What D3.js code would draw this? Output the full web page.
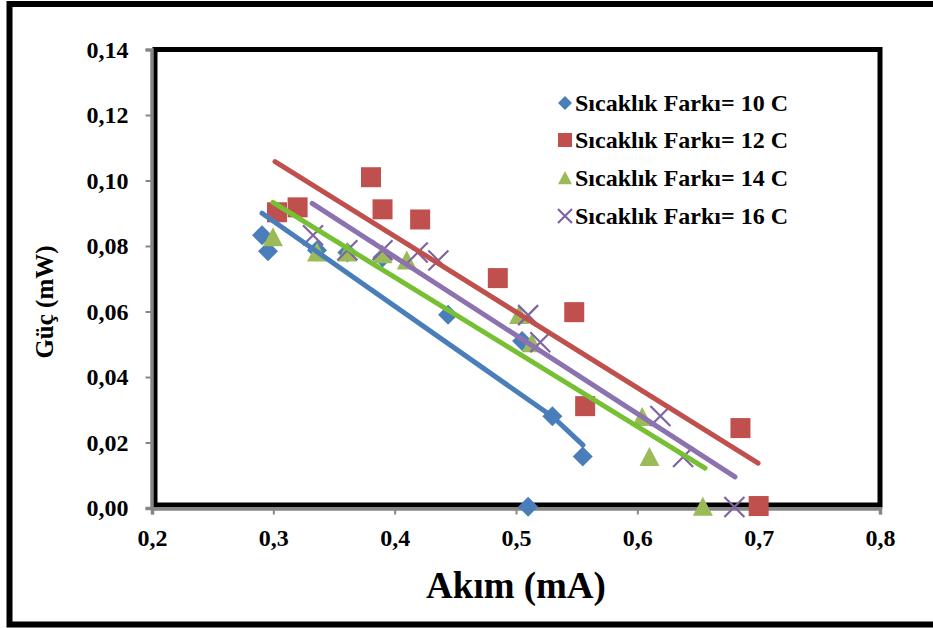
<!DOCTYPE html>
<html><head><meta charset="utf-8">
<script src="https://cdn.jsdelivr.net/npm/d3@7"></script>
<style>html,body{margin:0;padding:0;background:#fff;}svg{display:block;}</style>
</head><body>
<script>
const seriesNames = ["Sıcaklık Farkı= 10 C","Sıcaklık Farkı= 12 C","Sıcaklık Farkı= 14 C","Sıcaklık Farkı= 16 C"];
const xTicks = [0.2,0.3,0.4,0.5,0.6,0.7,0.8];
const yTicks = [0,0.02,0.04,0.06,0.08,0.10,0.12,0.14];
const dT10 = [[0.2907,0.0833],[0.2956,0.0784],[0.336,0.0787],[0.361,0.078],[0.39,0.0765],[0.444,0.059],[0.505,0.051],[0.53,0.028],[0.555,0.0157],[0.51,0.0004]];
const dT12 = [[0.303,0.0903],[0.32,0.0918],[0.3805,0.101],[0.39,0.0912],[0.421,0.0881],[0.485,0.0702],[0.548,0.0598],[0.557,0.0311],[0.685,0.0244],[0.70,0.0006]];
const dT14 = [[0.2997,0.0827],[0.336,0.078],[0.361,0.078],[0.39,0.0775],[0.41,0.0756],[0.5025,0.0589],[0.513,0.0503],[0.604,0.0278],[0.61,0.0156],[0.654,0.0004]];
const dT16 = [[0.3327,0.0833],[0.361,0.0787],[0.39,0.0787],[0.419,0.078],[0.436,0.0756],[0.51,0.0589],[0.52,0.0506],[0.619,0.0281],[0.6377,0.0156],[0.68,0.0003]];
const trend10 = [[0.2907,0.090],[0.5305,0.0278],[0.5552,0.0192]];
const trend12 = [[0.3014,0.1058],[0.6995,0.0137]];
const trend14 = [[0.2997,0.0933],[0.6558,0.0122]];
const trend16 = [[0.332,0.093],[0.6805,0.0095]];

const W=933,H=628;
const svg=d3.select("body").append("svg").attr("width",W).attr("height",H);
svg.append("rect").attr("width",W).attr("height",H).attr("fill","#fff");
// outer border
svg.append("rect").attr("x",9.5).attr("y",4).attr("width",W+20).attr("height",620.5)
  .attr("fill","none").attr("stroke","#000").attr("stroke-width",6);

const x=d3.scaleLinear().domain([0.2,0.8]).range([152,880]);
const y=d3.scaleLinear().domain([0,0.14]).range([508,49.5]);
const font="'Liberation Serif','Times New Roman',serif";

// plot area border
svg.append("rect").attr("x",155).attr("y",49.5).attr("width",880-155).attr("height",505-49.5)
  .attr("fill","none").attr("stroke","#000").attr("stroke-width",5);

// axes
const gx=svg.append("g").attr("transform","translate(0,508.5)")
  .call(d3.axisBottom(x).tickValues(xTicks).tickSize(6).tickFormat(d=>d3.format(".1f")(d).replace(".",",")));
const gy=svg.append("g").attr("transform","translate(151.5,0)")
  .call(d3.axisLeft(y).tickValues(yTicks).tickSize(6).tickFormat(d=>d3.format(".2f")(d).replace(".",",")));
[gx,gy].forEach(g=>{
  g.select(".domain").attr("stroke","#868686").attr("stroke-width",3.5);
  g.selectAll(".tick line").attr("stroke","#868686").attr("stroke-width",2);
  g.selectAll("text").attr("font-family",font).attr("font-weight","bold").attr("font-size",24).attr("fill","#000");
});
gx.selectAll("text").attr("dy",null).attr("y",37);
gy.selectAll("text").attr("x",-23).attr("dy","0.33em");

// titles
svg.append("text").attr("x",516).attr("y",598).attr("text-anchor","middle")
  .attr("font-family",font).attr("font-weight","bold").attr("font-size",37).text("Akım (mA)");
svg.append("text").attr("transform","translate(53,302) rotate(-90)").attr("text-anchor","middle")
  .attr("font-family",font).attr("font-weight","bold").attr("font-size",25).text("Güç (mW)");

const colors={blue:"#4A7EBB",red:"#C0504D",green:"#9BBB59",purple:"#8064A2"};
const lineColors=["#4A7EBB","#C0504D","#77C033","#8C73B0"];

function marker(g,type,cx,cy,s){
  if(type===0){g.append("path").attr("d",`M${cx},${cy-s}L${cx+s},${cy}L${cx},${cy+s}L${cx-s},${cy}Z`).attr("fill",colors.blue);}
  else if(type===1){g.append("rect").attr("x",cx-s).attr("y",cy-s).attr("width",2*s).attr("height",2*s).attr("fill",colors.red);}
  else if(type===2){g.append("path").attr("d",`M${cx},${cy-s}L${cx+s},${cy+s*0.9}L${cx-s},${cy+s*0.9}Z`).attr("fill",colors.green);}
  else {g.append("path").attr("d",`M${cx-s},${cy-s}L${cx+s},${cy+s}M${cx+s},${cy-s}L${cx-s},${cy+s}`).attr("stroke",colors.purple).attr("stroke-width",2.2).attr("fill","none");}
}

const data=[dT10,dT12,dT14,dT16];
const mg=svg.append("g");
data.forEach((ds,i)=>{
  ds.forEach(d=>marker(mg,i,x(d[0]),y(d[1]),i===1?10:10));
});

const trends=[trend10,trend12,trend14,trend16];
const line=d3.line().x(d=>x(d[0])).y(d=>y(d[1]));
trends.forEach((t,i)=>{
  svg.append("path").attr("d",line(t)).attr("fill","none").attr("stroke",lineColors[i])
    .attr("stroke-width",5).attr("stroke-linecap","round").attr("stroke-linejoin","round");
});

// legend
const lg=svg.append("g");
const ly=[103,140,178,216];
seriesNames.forEach((n,i)=>{
  marker(lg,i,565,ly[i],i===3?7:7);
  lg.append("text").attr("x",575).attr("y",ly[i]).attr("dy","0.35em")
    .attr("font-family",font).attr("font-weight","bold").attr("font-size",24).text(n);
});
</script>
</body></html>
